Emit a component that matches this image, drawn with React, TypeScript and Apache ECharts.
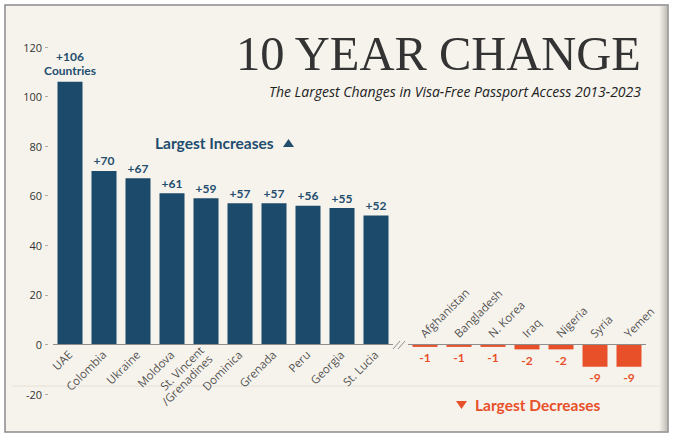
import React, { useEffect, useRef } from "react";
import * as echarts from "echarts";

const increaseCountries = [
  "UAE",
  "Colombia",
  "Ukraine",
  "Moldova",
  "St. Vincent\n/Grenadines",
  "Dominica",
  "Grenada",
  "Peru",
  "Georgia",
  "St. Lucia",
];
const increaseValues = [106, 70, 67, 61, 59, 57, 57, 56, 55, 52];

const decreaseCountries = [
  "Afghanistan",
  "Bangladesh",
  "N. Korea",
  "Iraq",
  "Nigeria",
  "Syria",
  "Yemen",
];
const decreaseValues = [-1, -1, -1, -2, -2, -9, -9];

const yMin = -20;
const yMax = 120;
const yStep = 20;

const BLUE = "#1c4a6a";
const BLUE_TEXT = "#234d6d";
const ORANGE = "#e8502a";
const CREAM = "#f6f3ed";
const AXIS_GREY = "#8d8d8d";

export default function App() {
  const ref = useRef<HTMLDivElement>(null);

  useEffect(() => {
    if (!ref.current) return;
    const chart = echarts.init(ref.current, null, { renderer: "svg" });

    const yAxisCommon = {
      type: "value",
      min: yMin,
      max: yMax,
      interval: yStep,
      splitLine: { show: false },
      axisLine: { show: false },
    };

    const zeroLine = {
      silent: true,
      symbol: "none",
      label: { show: false },
      lineStyle: { color: AXIS_GREY, type: "solid", width: 1 },
      data: [{ yAxis: 0 }],
    };

    const nameLabel = {
      fontFamily: "Open Sans",
      fontSize: 11.5,
      color: "#262626",
      rotate: 45,
      verticalAlign: "middle",
      lineHeight: 12,
    };

    const option: any = {
      animation: false,
      backgroundColor: "#ffffff",
      grid: [
        { left: 53, width: 340, top: 47, bottom: 42, outerBoundsMode: "none", containLabel: false },
        { left: 408, width: 238, top: 47, bottom: 42, outerBoundsMode: "none", containLabel: false },
      ],
      xAxis: [
        { type: "category", gridIndex: 0, data: increaseCountries, show: false },
        { type: "category", gridIndex: 1, data: decreaseCountries, show: false },
      ],
      yAxis: [
        {
          ...yAxisCommon,
          gridIndex: 0,
          offset: 5,
          axisTick: { show: true, length: 3, lineStyle: { color: "#b0aca5" } },
          axisLabel: {
            margin: 6,
            fontFamily: "Open Sans",
            fontSize: 11,
            color: "#333333",
          },
        },
        {
          ...yAxisCommon,
          gridIndex: 1,
          axisTick: { show: false },
          axisLabel: { show: false },
        },
      ],
      series: [
        {
          type: "scatter",
          xAxisIndex: 0,
          yAxisIndex: 0,
          z: 1,
          silent: true,
          symbolSize: 0,
          data: increaseCountries.map((c) => [c, 0]),
          label: {
            show: true,
            position: [0, 8],
            align: "right",
            formatter: (p: any) => increaseCountries[p.dataIndex],
            ...nameLabel,
          },
          markLine: zeroLine,
        },
        {
          type: "scatter",
          xAxisIndex: 1,
          yAxisIndex: 1,
          z: 1,
          silent: true,
          symbolSize: 0,
          data: decreaseCountries.map((c) => [c, 0]),
          label: {
            show: true,
            position: [-3, -9],
            align: "left",
            formatter: (p: any) => decreaseCountries[p.dataIndex],
            ...nameLabel,
          },
          markLine: zeroLine,
        },
        {
          type: "bar",
          xAxisIndex: 0,
          yAxisIndex: 0,
          z: 3,
          barWidth: 25,
          itemStyle: { color: BLUE },
          data: increaseValues.map((v, i) =>
            i === 0
              ? {
                  value: v,
                  label: { formatter: "+{c}\nCountries", lineHeight: 14 },
                }
              : v
          ),
          label: {
            show: true,
            position: "top",
            distance: 4,
            formatter: "+{c}",
            fontFamily: "Lato",
            fontWeight: "bold",
            fontSize: 12,
            color: BLUE_TEXT,
          },
        },
        {
          type: "bar",
          xAxisIndex: 1,
          yAxisIndex: 1,
          z: 3,
          barWidth: 25,
          itemStyle: { color: ORANGE },
          data: decreaseValues,
          label: {
            show: true,
            position: "bottom",
            distance: 5,
            formatter: "{c}",
            fontFamily: "Lato",
            fontWeight: "bold",
            fontSize: 12,
            color: ORANGE,
          },
        },
      ],
      graphic: [
        {
          type: "rect",
          z: -10,
          silent: true,
          shape: { x: 5, y: 5, width: 663, height: 427 },
          style: { fill: CREAM, stroke: "#8a8a8a", lineWidth: 1.5 },
        },
        {
          type: "rect",
          z: -9,
          silent: true,
          shape: { x: 659, y: 6, width: 8, height: 425 },
          style: {
            fill: new echarts.graphic.LinearGradient(0, 0, 1, 0, [
              { offset: 0, color: CREAM },
              { offset: 1, color: "#c2bfb9" },
            ]),
          },
        },
        {
          type: "line",
          z: -8,
          silent: true,
          shape: { x1: 12, y1: 386, x2: 660, y2: 386 },
          style: { stroke: "#e4e0d7", lineWidth: 1 },
        },
        {
          type: "text",
          z: 10,
          style: {
            x: 641,
            y: 53,
            text: "10 YEAR CHANGE",
            align: "right",
            verticalAlign: "middle",
            fontFamily: "Liberation Serif",
            fontSize: 48.5,
            fill: "#333333",
          },
        },
        {
          type: "text",
          z: 10,
          style: {
            x: 641,
            y: 91,
            text: "The Largest Changes in Visa-Free Passport Access 2013-2023",
            align: "right",
            verticalAlign: "middle",
            fontFamily: "Open Sans",
            fontStyle: "italic",
            fontSize: 14,
            fill: "#222222",
          },
        },
        {
          type: "text",
          z: 10,
          style: {
            x: 155,
            y: 143,
            text: "Largest Increases",
            align: "left",
            verticalAlign: "middle",
            fontFamily: "Lato",
            fontWeight: "bold",
            fontSize: 15.5,
            fill: BLUE_TEXT,
          },
        },
        {
          type: "polygon",
          z: 10,
          shape: { points: [[283, 147], [294, 147], [288.5, 139]] },
          style: { fill: BLUE_TEXT },
        },
        {
          type: "polygon",
          z: 10,
          shape: { points: [[456, 401], [467, 401], [461.5, 409]] },
          style: { fill: ORANGE },
        },
        {
          type: "text",
          z: 10,
          style: {
            x: 475,
            y: 405,
            text: "Largest Decreases",
            align: "left",
            verticalAlign: "middle",
            fontFamily: "Lato",
            fontWeight: "bold",
            fontSize: 15.5,
            fill: ORANGE,
          },
        },
        {
          type: "line",
          z: 11,
          shape: { x1: 393, y1: 349, x2: 400, y2: 341 },
          style: { stroke: AXIS_GREY, lineWidth: 1 },
        },
        {
          type: "line",
          z: 11,
          shape: { x1: 398, y1: 349, x2: 405, y2: 341 },
          style: { stroke: AXIS_GREY, lineWidth: 1 },
        },
      ],
    };

    chart.setOption(option);
    return () => chart.dispose();
  }, []);

  return (
    <div
      ref={ref}
      style={{ position: "fixed", left: 0, top: 0, width: 682, height: 436 }}
    />
  );
}
